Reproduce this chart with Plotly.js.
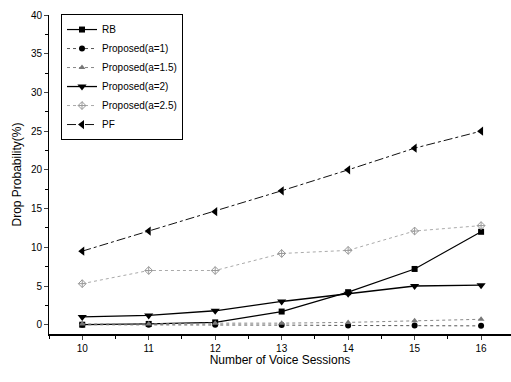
<!DOCTYPE html>
<html><head><meta charset="utf-8">
<script src="https://cdn.plot.ly/plotly-3.0.1.min.js"></script>
<style>html,body{margin:0;padding:0;background:#fff}#chart{width:511px;height:382px}</style>
</head><body><div id="chart"></div>
<script>
const sessions = [10, 11, 12, 13, 14, 15, 16];
const rb = [0.0, 0.1, 0.3, 1.7, 4.2, 7.2, 12.0];
const propA1 = [0.0, 0.0, 0.0, -0.05, -0.1, -0.1, -0.15];
const propA15 = [0.1, 0.1, 0.2, 0.2, 0.3, 0.5, 0.7];
const propA2 = [1.0, 1.2, 1.8, 3.0, 4.0, 5.0, 5.1];
const propA25 = [5.3, 7.0, 7.0, 9.2, 9.6, 12.1, 12.8];
const pf = [9.5, 12.1, 14.6, 17.3, 20.0, 22.8, 25.0];
const names = ['RB', 'Proposed(a=1)', 'Proposed(a=1.5)', 'Proposed(a=2)', 'Proposed(a=2.5)', 'PF'];

const styles = [
  {line:{color:'#000', width:1.2, dash:'solid'}, marker:{symbol:'square', size:6, color:'#000'}},
  {line:{color:'#555', width:1, dash:'dot'}, marker:{symbol:'circle', size:6, color:'#000'}},
  {line:{color:'#888', width:1, dash:'dot'}, marker:{symbol:'triangle-up', size:6, color:'#777'}},
  {line:{color:'#000', width:1.3, dash:'solid'}, marker:{symbol:'triangle-down', size:8, color:'#000'}},
  {line:{color:'#aaa', width:1, dash:'dot'}, marker:{symbol:'diamond-cross-open', size:6, color:'#999', line:{width:1, color:'#999'}}},
  {line:{color:'#111', width:1, dash:'dashdot'}, marker:{symbol:'triangle-left', size:8, color:'#000'}}
];
const series = [rb, propA1, propA15, propA2, propA25, pf];
const traces = series.map((ys, i) => Object.assign({
  x: sessions, y: ys, name: names[i], type: 'scatter', mode: 'lines+markers'
}, styles[i]));

const layout = {
  width: 511, height: 382,
  margin: {l: 49, r: 0, t: 15, b: 48},
  paper_bgcolor: '#fff', plot_bgcolor: '#fff',
  font: {family: 'Liberation Sans, Arial, sans-serif', color: '#000', size: 10},
  showlegend: true,
  legend: {x: 0.026, y: 1.003, xanchor: 'left', yanchor: 'top', bordercolor: '#000', borderwidth: 1,
           bgcolor: '#fff', font: {size: 10}, tracegroupgap: 0, itemwidth: 30},
  xaxis: {range: [9.5, 16.45], tickvals: sessions, ticks: 'outside', ticklen: 4, tickwidth: 1,
          showline: true, linecolor: '#000', linewidth: 1.5, showgrid: false, zeroline: false,
          minor: {dtick: 0.5, tick0: 10, ticks: 'outside', ticklen: 3, tickcolor: '#000', showgrid: false},
          tickfont: {size: 10}, automargin: false,
          title: {text: 'Number of Voice Sessions', font: {size: 12}, standoff: 0}},
  yaxis: {range: [-1.2, 40], dtick: 5, ticks: 'outside', ticklen: 4, tickwidth: 1,
          showline: true, linecolor: '#000', linewidth: 1, showgrid: false, zeroline: false,
          minor: {dtick: 2.5, ticks: 'outside', ticklen: 3, tickcolor: '#000', showgrid: false},
          tickfont: {size: 10},
          title: {text: 'Drop Probability(%)', font: {size: 12}, standoff: 6}}
};
Plotly.newPlot('chart', traces, layout, {displayModeBar: false, staticPlot: true});
</script></body></html>
